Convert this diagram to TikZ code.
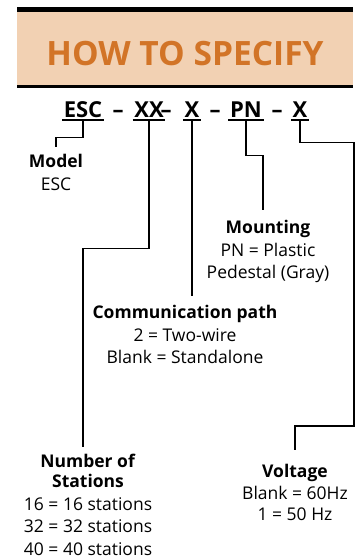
\documentclass[tikz,border=0pt]{standalone}
\usepackage{fontspec}
\setmainfont{Open Sans}
\usepackage{tikz}
\usetikzlibrary{calc, positioning}
\usepackage{xcolor}
\definecolor{headpeach}{RGB}{242, 209, 179}
\definecolor{headorange}{RGB}{210, 116, 39}

\begin{document}
\begin{tikzpicture}[x=1pt, y=-1pt, line cap=butt, line join=miter,
	code/.style={font=\fontsize{22}{24}\selectfont\bfseries, anchor=base, inner xsep=1.5pt, inner ysep=3pt},
	codedash/.style={font=\fontsize{22}{24}\selectfont\bfseries, anchor=base, inner sep=0pt},
	uline/.style={line width=2pt},
	conn/.style={line width=1.2pt},
	label/.style={anchor=north, align=center, inner xsep=1pt, inner ysep=7pt, font=\fontsize{17.5}{22.5}\selectfont}]
	\useasboundingbox (0,0) rectangle (357,558);

	% header band
	\fill[headpeach] (17,12) rectangle (353,85);
	\fill[black] (17,7) rectangle (353,12);
	\fill[black] (17,85) rectangle (353,87.5);
	\node[font=\fontsize{33.5}{36}\selectfont\bfseries, text=headorange] (title) at (185,54) {HOW TO SPECIFY};

	% part number
	\node[code] (esc) at (83,117) {ESC};
	\node[codedash] (d1) at (118,117) {–};
	\node[code] (xx) at (149,117) {XX};
	\node[codedash] (d2) at (166,117) {–};
	\node[code] (cx) at (192,117) {X};
	\node[codedash] (d3) at (215,117) {–};
	\node[code] (pn) at (246,117) {PN};
	\node[codedash] (d4) at (277,117) {–};
	\node[code] (vx) at (300,117) {X};
	\foreach \n in {esc,xx,cx,pn,vx}
		\draw[uline] (\n.south west) -- (\n.south east);

	% descriptions
	\node[label] (model) at (56,147) {\textbf{Model}\\ESC};
	\node[label] (stations) at (88,447) {\textbf{Number of}\\[-2.5pt]\textbf{Stations}\\16 = 16 stations\\32 = 32 stations\\40 = 40 stations};
	\node[label, inner ysep=9pt] (comm) at (185,296) {\textbf{Communication path}\\2 = Two-wire\\Blank = Standalone};
	\node[label, inner ysep=10pt] (mount) at (268,210) {\textbf{Mounting}\\PN = Plastic\\Pedestal (Gray)};
	\node[label, inner ysep=14pt] (volt) at (295,450) {\textbf{Voltage}\\[-1pt]Blank = 60Hz\\[-1pt]1 = 50 Hz};
	\coordinate (vturn) at (354,426);

	% leader lines
	\draw[conn] (esc.south) -- ++(0,17) -| (model.north);
	\draw[conn] (xx.south) -- ++(0,128) -| ([xshift=-5pt]stations.north);
	\draw[conn] (cx.south) -- (cx.south |- comm.north);
	\draw[conn] (pn.south) -- ++(0,35) -| ([xshift=-5pt]mount.north);
	\draw[conn] (vx.south) -- ++(0,22) -| (vturn) -| (volt.north);
\end{tikzpicture}
\end{document}
